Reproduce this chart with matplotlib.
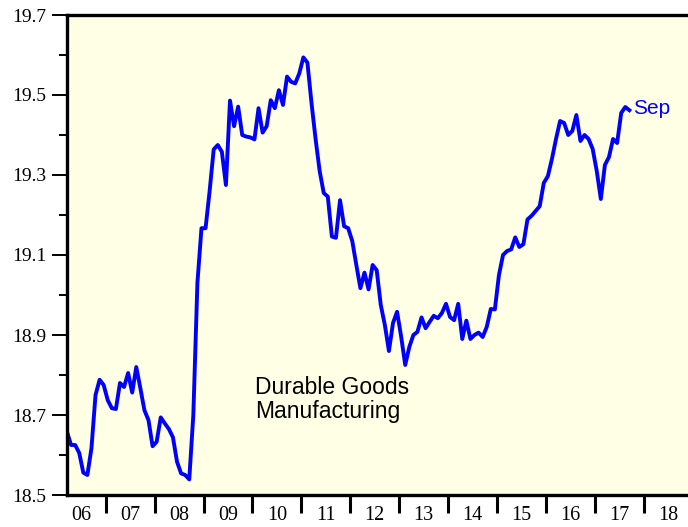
import numpy as np
import matplotlib
matplotlib.use("Agg")
import matplotlib.pyplot as plt
from matplotlib.ticker import FixedLocator, NullFormatter

# monthly series, Mar 2006 .. Sep 2017
start_year, start_month = 2006, 3
values = [
    18.658, 18.625, 18.625, 18.605, 18.556, 18.550, 18.617, 18.750, 18.788, 18.775,
    18.737, 18.717, 18.715, 18.780, 18.770, 18.805, 18.756, 18.820, 18.767, 18.712,
    18.687, 18.622, 18.633, 18.694, 18.679, 18.665, 18.644, 18.583, 18.554, 18.550,
    18.539, 18.700, 19.030, 19.167, 19.167, 19.260, 19.364, 19.375, 19.358, 19.275,
    19.486, 19.422, 19.471, 19.400, 19.396, 19.394, 19.389, 19.467, 19.406, 19.422,
    19.487, 19.467, 19.512, 19.475, 19.546, 19.533, 19.529, 19.554, 19.594, 19.581,
    19.480, 19.390, 19.310, 19.255, 19.246, 19.146, 19.143, 19.237, 19.172, 19.167,
    19.135, 19.075, 19.017, 19.056, 19.014, 19.075, 19.062, 18.975, 18.925, 18.860,
    18.930, 18.958, 18.896, 18.825, 18.870, 18.900, 18.908, 18.944, 18.917, 18.933,
    18.948, 18.942, 18.955, 18.978, 18.945, 18.937, 18.978, 18.890, 18.936, 18.890,
    18.900, 18.906, 18.895, 18.920, 18.965, 18.964, 19.050, 19.100, 19.110, 19.114,
    19.144, 19.120, 19.127, 19.189, 19.198, 19.210, 19.222, 19.280, 19.297, 19.340,
    19.390, 19.435, 19.430, 19.400, 19.410, 19.450, 19.385, 19.400, 19.390, 19.365,
    19.310, 19.240, 19.325, 19.345, 19.390, 19.380, 19.455, 19.470, 19.462,
]
year_labels = ["06", "07", "08", "09", "10", "11", "12", "13", "14", "15", "16", "17", "18"]
y_major = [18.5, 18.7, 18.9, 19.1, 19.3, 19.5, 19.7]
y_minor = [18.6, 18.8, 19.0, 19.2, 19.4, 19.6]

# fractional year at mid-month
t = start_year + (start_month - 1 + np.arange(len(values)) + 0.5) / 12

fig = plt.figure(figsize=(6.88, 5.27), dpi=100)
ax = fig.add_axes([67 / 688, 32 / 527, 621 / 688, 480 / 527])
ax.set_facecolor("#ffffe6")

ax.plot(t, values, color="#0000ff", lw=2.8, solid_joinstyle="round")

ax.set_xlim(t[0], t[0] + 621 / 48.9)
ax.set_ylim(18.5, 19.7)

for side in ["left", "top", "bottom"]:
    ax.spines[side].set_linewidth(2.4)
ax.spines["right"].set_visible(False)

# year boundaries as ticks, labels centred in each year
years = np.arange(2006, 2006 + len(year_labels))
ax.xaxis.set_major_locator(FixedLocator(years[1:]))
ax.xaxis.set_major_formatter(NullFormatter())
ax.xaxis.set_minor_locator(FixedLocator(years + 0.5))
ax.set_xticklabels(year_labels, minor=True)
ax.tick_params(axis="x", which="major", direction="out", length=13, width=2.2)
ax.tick_params(axis="x", which="minor", length=0, pad=8)

ax.set_yticks(y_major)
ax.set_yticklabels([f"{v:.1f}" for v in y_major])
ax.set_yticks(y_minor, minor=True)
ax.tick_params(axis="y", which="major", direction="out", length=11, width=1.4, pad=4)
ax.tick_params(axis="y", which="minor", direction="out", length=5.5, width=1.4)

for lab in ax.get_xticklabels(minor=True):
    lab.set_fontfamily("Liberation Serif")
    lab.set_fontsize(14.5)
for lab in ax.get_yticklabels():
    lab.set_fontfamily("Liberation Serif")
    lab.set_fontsize(14)

ax.text(0.303, 0.247, "Durable Goods\nManufacturing", transform=ax.transAxes,
        fontsize=16.5, family="Liberation Sans", va="top", ha="left", linespacing=1.05)
ax.annotate("Sep", (t[-1], values[-1]), xytext=(3, 1), textcoords="offset points",
            color="#0000ff", fontsize=15, family="Liberation Sans", va="center")

fig.savefig("out.png", dpi=100)
